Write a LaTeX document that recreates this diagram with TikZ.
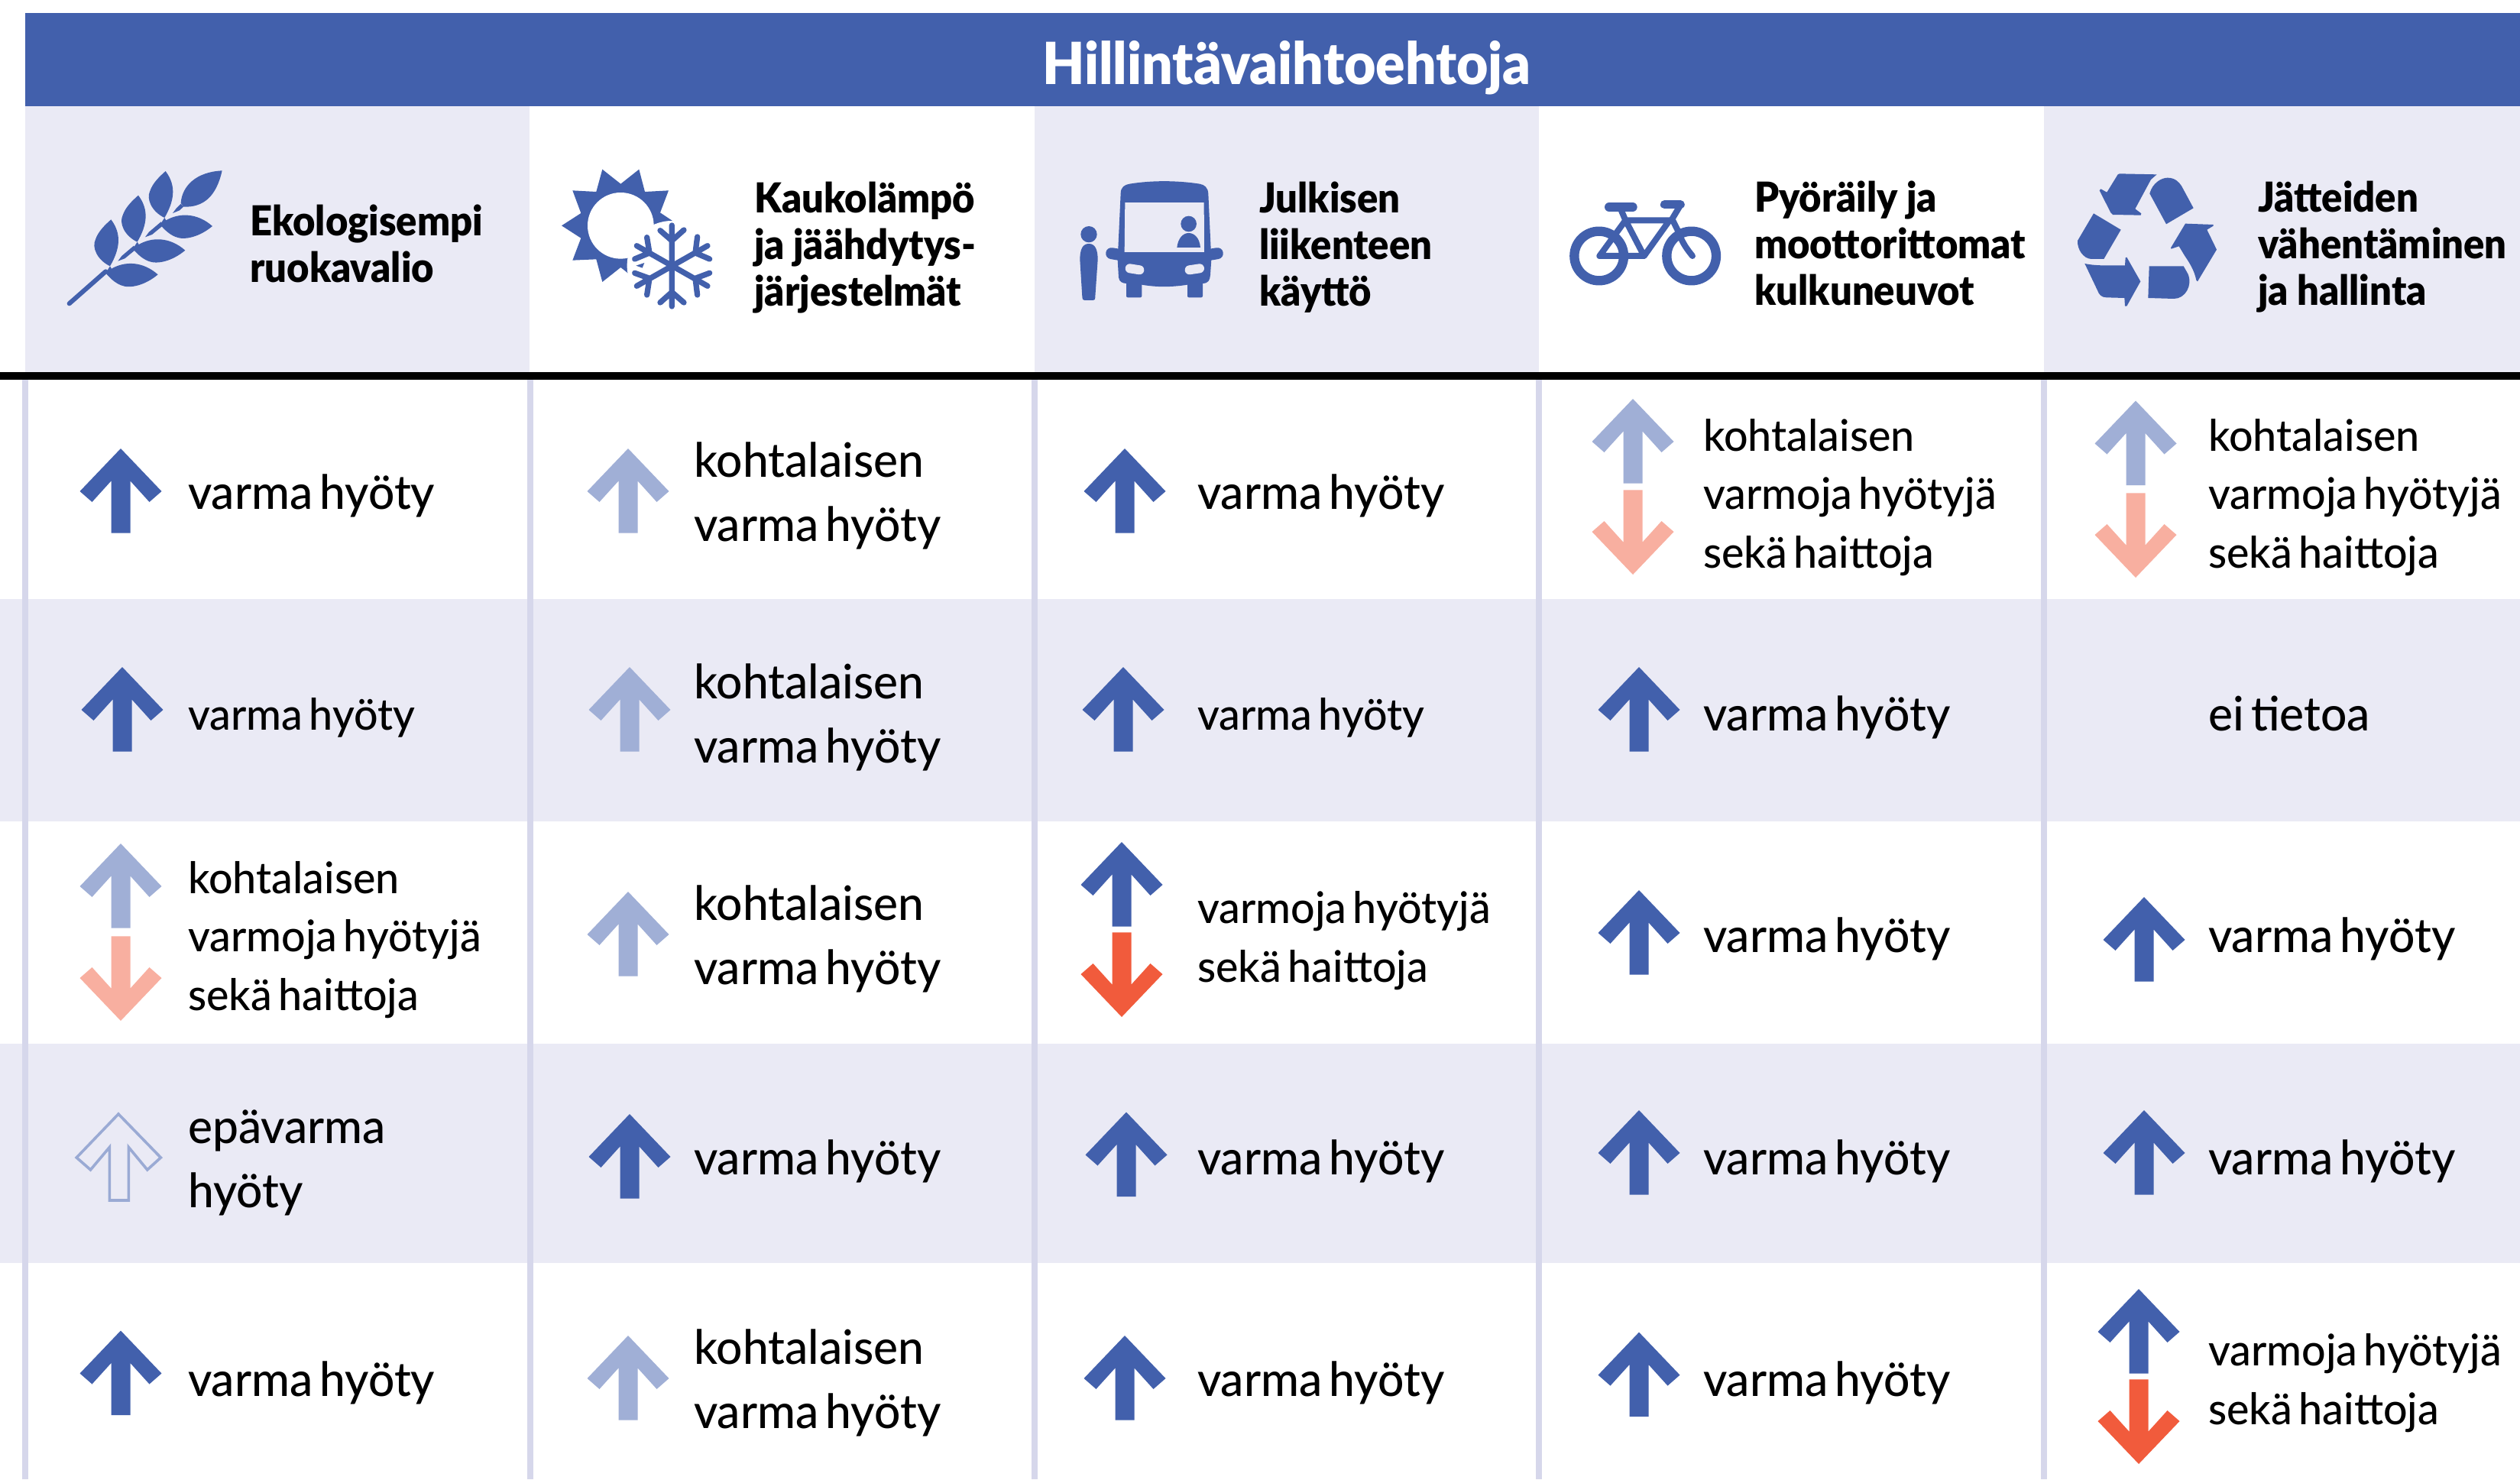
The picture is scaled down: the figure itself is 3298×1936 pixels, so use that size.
\documentclass[tikz,border=0pt]{standalone}
\usepackage{fontspec}
\setmainfont[FakeStretch=0.975,WordSpace=0.6,BoldFont={Lato Black},BoldFeatures={FakeStretch=0.94,WordSpace=0.95}]{Lato Medium}
\definecolor{hdrblue}{HTML}{4260AC}
\definecolor{lightblue}{HTML}{A0AFD6}
\definecolor{openblue}{HTML}{9AAAD4}
\definecolor{salmon}{HTML}{F8AFA0}
\definecolor{hotred}{HTML}{F15B3C}
\definecolor{band}{HTML}{EAEAF5}
\definecolor{gridline}{HTML}{D6D7EB}
\tikzset{
  hdrtext/.style={anchor=base west,inner sep=0pt,align=left,font=\fontsize{54}{61}\selectfont\bfseries},
  bigtext/.style={anchor=base west,inner sep=0pt,align=left,font=\fontsize{62}{84}\selectfont},
  midtext/.style={anchor=base west,inner sep=0pt,align=left,font=\fontsize{57}{76.5}\selectfont},
  iconfill/.style={fill=hdrblue,draw=none},
  iconline/.style={draw=hdrblue,line cap=round,line join=round},
}
\newcommand{\arrowUp}[3]{\fill[#1] ({#2},{#3}) -- ++(53.5,56) -- ++(-16,14) -- ++(-25,-27.6) -- ++(0,68.2) -- ++(-25,0) -- ++(0,-68.2) -- ++(-25,27.6) -- ++(-16,-14) -- cycle;}
\newcommand{\arrowDown}[3]{\fill[#1] ({#2},{#3}) -- ++(53.5,-56) -- ++(-16,-14) -- ++(-25,27.6) -- ++(0,-68.2) -- ++(-25,0) -- ++(0,68.2) -- ++(-25,-27.6) -- ++(-16,14) -- cycle;}
\begin{document}
\begin{tikzpicture}[x=1pt,y=-1pt]
\useasboundingbox (0,0) rectangle (3298,1936);
\fill[white] (0,0) rectangle (3298,1936);
% header
\fill[hdrblue] (33,17) rectangle (3298,139);
\fill[band] (33,139) rectangle (693,487);
\fill[band] (1354,139) rectangle (2014,487);
\fill[band] (2675,139) rectangle (3298,487);
% row bands
\fill[band] (0,784) rectangle (3298,1075);
\fill[band] (0,1366) rectangle (3298,1653);
% column rules
\foreach \cx in {33,694,1354,2014,2675} \fill[gridline] ({\cx-4},497) rectangle ({\cx+4},1936);
\fill[black] (0,487) rectangle (3298,497);
% title
\node[anchor=base,inner sep=0pt,text=white,font=\fontsize{76}{80}\selectfont\bfseries] (title) at (1684,110) {Hillintävaihtoehtoja};
% header labels (baseline of last line)
\node[hdrtext] (h1) at (327,369) {Ekologisempi\\ruokavalio};
\node[hdrtext] (h2) at (987,400) {Kaukolämpö\\ja jäähdytys-\\järjestelmät};
\node[hdrtext] (h3) at (1648,400) {Julkisen\\liikenteen\\käyttö};
\node[hdrtext] (h4) at (2296,399) {Pyöräily ja\\moottorittomat\\kulkuneuvot};
\node[hdrtext] (h5) at (2955,399) {Jätteiden\\vähentäminen\\ja hallinta};
% leaf icon
\begin{scope}[shift={(70,200)},x=0.3333pt,y=-0.3333pt]
  \draw[iconline,line width=6pt] (62,592) -- (205,466);
  \foreach \dx/\dy in {0/0,107/-95,214/-190}{
    \begin{scope}[shift={(\dx,\dy)}]
    \fill[hdrblue] (226,262) .. controls (270,320) and (260,380) .. (222,445) .. controls (170,420) and (150,370) .. (165,340) .. controls (175,310) and (200,285) .. (226,262) -- cycle;
    \fill[hdrblue] (228,455) .. controls (280,425) and (350,425) .. (410,478) .. controls (360,520) and (300,535) .. (265,520) .. controls (240,510) and (220,490) .. (205,472) -- (222,445) -- cycle;
    \end{scope}}
  \fill[hdrblue] (253,425) -- (268,405) -- (315,365) -- (325,378) -- (280,415) -- cycle;
  \fill[hdrblue] (360,331) -- (375,311) -- (422,271) -- (432,284) -- (387,321) -- cycle;
  \fill[hdrblue] (468,237) -- (483,217) -- (500,200) -- (510,212) -- (495,226) -- cycle;
  \fill[hdrblue] (662,70) .. controls (640,170) and (590,215) .. (510,212) -- (500,197) .. controls (505,130) and (560,75) .. (662,70) -- cycle;
\end{scope}
% sun and snowflake icon
\begin{scope}[shift={(720,200)},x=0.3333pt,y=-0.3333pt]
  \fill[hdrblue] (45,286) -- (121,237) -- (88,148) -- (181,153) -- (205,65) -- (277,122) -- (349,65) -- (372,153) -- (465,148) -- (432,235) -- (509,286) -- (432,335) -- (465,422) -- (372,418) -- (349,507) -- (277,450) -- (205,507) -- (181,418) -- (88,422) -- (121,335) -- cycle;
  \fill[white] (277,286) circle[radius=130];
  \fill[white] (478,443) circle[radius=176];
  \fill[hdrblue] (337,443) -- (370,432) -- (362,452) -- cycle;
  \draw[iconline,line width=7.3pt] (478,285) -- (478,603)
    (432,305) -- (478,345) -- (525,303) (432,588) -- (478,547) -- (525,588)
    (340,365) -- (618,523) (618,365) -- (340,523)
    (380,332) -- (390,393) -- (332,417) (578,330) -- (570,393) -- (626,417)
    (332,472) -- (390,493) -- (380,558) (626,472) -- (570,493) -- (578,558);
\end{scope}
% bus icon
\begin{scope}[shift={(1400,220)},x=0.3333pt,y=-0.3333pt]
  \fill[hdrblue] (200,100) .. controls (200,75) and (215,65) .. (235,62) .. controls (320,48) and (420,48) .. (510,62) .. controls (530,65) and (543,78) .. (544,100) -- (556,360) -- (552,420) .. controls (550,440) and (545,452) .. (522,453) -- (462,458) .. controls (400,468) and (340,468) .. (283,458) -- (222,453) .. controls (208,452) and (195,448) .. (192,430) -- (188,360) -- cycle;
  \fill[hdrblue,rounded corners=2pt] (222,440) rectangle (283,508);
  \fill[hdrblue,rounded corners=2pt] (462,440) rectangle (522,508);
  \draw[iconline,line width=15pt] (164,335) -- (200,341);
  \draw[iconline,line width=15pt] (580,335) -- (544,341);
  \draw[band,line cap=round,line width=12pt] (236,394) -- (274,400);
  \draw[band,line cap=round,line width=12pt] (470,400) -- (510,394);
  \fill[band] (217,135) -- (527,135) -- (528,330) -- (215,330) -- cycle;
  \fill[hdrblue] (467,219) circle[radius=31];
  \fill[hdrblue] (421,312) .. controls (425,275) and (445,255) .. (467,255) .. controls (490,255) and (510,275) .. (513,312) -- cycle;
  \fill[hdrblue] (75,260) circle[radius=32];
  \fill[hdrblue] (40,360) .. controls (40,320) and (50,297) .. (75,297) .. controls (100,297) and (110,320) .. (110,360) -- (100,505) .. controls (100,515) and (98,519) .. (92,519) -- (58,519) .. controls (52,519) and (50,515) .. (49,505) -- cycle;
\end{scope}
% bicycle icon
\begin{scope}[shift={(2040,240)},x=0.3333pt,y=-0.3333pt]
  \draw[hdrblue,line width=12.3pt] (158,285) circle[radius=97];
  \draw[hdrblue,line width=12.3pt] (521,285) circle[radius=97];
  \draw[iconline,line width=12pt] (198,93) -- (290,93);
  \draw[iconline,line width=11pt] (415,83) -- (478,83);
  \draw[iconline,line width=8pt] (245,105) -- (262,145) -- (335,285) -- (160,285) -- (262,145) -- (435,145) -- (335,285);
  \draw[iconline,line width=8pt] (478,85) -- (445,140) -- (470,190) .. controls (485,235) and (505,260) .. (525,285);
\end{scope}
% recycle icon
\begin{scope}[shift={(2700,210)},x=0.3333pt,y=-0.3333pt]
  \fill[hdrblue] (222,52) -- (368,55) -- (345,75) -- (283,190) -- (307,208) -- (305,215) -- (195,213) -- (187,205) -- (143,118) -- (148,112) -- (172,125) -- (215,55) -- cycle;
  \fill[hdrblue] (340,130) .. controls (350,90) and (385,68) .. (410,68) .. controls (440,68) and (455,85) .. (465,100) -- (512,187) -- (405,250) -- cycle;
  \fill[hdrblue] (480,248) -- (590,252) -- (590,257) -- (565,272) -- (603,350) -- (528,475) -- (523,470) .. controls (515,430) and (495,400) .. (478,375) -- (455,337) -- (425,347) -- (423,343) -- cycle;
  \fill[hdrblue] (338,415) -- (473,415) -- (490,445) .. controls (510,490) and (480,543) .. (435,543) -- (334,540) -- cycle;
  \fill[hdrblue] (85,405) .. controls (130,415) and (190,412) .. (243,412) -- (245,382) -- (250,380) -- (304,475) -- (250,572) -- (243,572) -- (241,540) -- (170,538) .. controls (150,538) and (140,525) .. (135,510) -- cycle;
  \fill[hdrblue] (120,208) -- (227,272) -- (160,387) -- (110,387) .. controls (80,385) and (55,350) .. (57,315) -- cycle;
\end{scope}
% arrows
\arrowUp{hdrblue}{158}{587}
\arrowUp{lightblue}{822}{587}
\arrowUp{hdrblue}{1472}{587}
\arrowUp{lightblue}{2137}{522}\arrowDown{salmon}{2137}{752}
\arrowUp{lightblue}{2795}{524.5}\arrowDown{salmon}{2795}{756}
\arrowUp{hdrblue}{160}{873}
\arrowUp{lightblue}{824}{873}
\arrowUp{hdrblue}{1470}{873}
\arrowUp{hdrblue}{2145}{873}
\arrowUp{lightblue}{158}{1104}\arrowDown{salmon}{158}{1336}
\arrowUp{lightblue}{822}{1167}
\arrowUp{hdrblue}{1468}{1102}\arrowDown{hotred}{1468}{1331}
\arrowUp{hdrblue}{2145}{1165}
\arrowUp{hdrblue}{2806}{1174}
\draw[openblue,line width=3.6pt,miter limit=10] (155,1458) -- (100.2,1515) -- (118.5,1531) -- (143.4,1501.4) -- (143.4,1571) -- (168.3,1571) -- (168.3,1501.4) -- (192.8,1531) -- (210.4,1515) -- cycle;
\arrowUp{hdrblue}{824}{1458}
\arrowUp{hdrblue}{1474}{1455.5}
\arrowUp{hdrblue}{2145}{1453}
\arrowUp{hdrblue}{2806}{1453}
\arrowUp{hdrblue}{158}{1741.5}
\arrowUp{lightblue}{822}{1748}
\arrowUp{hdrblue}{1472}{1748}
\arrowUp{hdrblue}{2145}{1743.6}
\arrowUp{hdrblue}{2799}{1687}\arrowDown{hotred}{2799}{1916}
% row 1
\node[bigtext] (r1c1) at (246,666) {varma hyöty};
\node[bigtext] (r1c2) at (908,708) {kohtalaisen\\varma hyöty};
\node[bigtext] (r1c3) at (1567,666) {varma hyöty};
\node[midtext] (r1c4) at (2229,743) {kohtalaisen\\varmoja hyötyjä\\sekä haittoja};
\node[midtext] (r1c5) at (2890,743) {kohtalaisen\\varmoja hyötyjä\\sekä haittoja};
% row 2
\node[midtext] (r2c1) at (246,955) {varma hyöty};
\node[bigtext] (r2c2) at (908,998) {kohtalaisen\\varma hyöty};
\node[midtext] (r2c3) at (1567,955) {varma hyöty};
\node[bigtext] (r2c4) at (2229,956) {varma hyöty};
\node[bigtext] (r2c5) at (2890,956) {ei tietoa};
% row 3
\node[midtext] (r3c1) at (246,1322) {kohtalaisen\\varmoja hyötyjä\\sekä haittoja};
\node[bigtext] (r3c2) at (908,1288) {kohtalaisen\\varma hyöty};
\node[midtext] (r3c3) at (1567,1285) {varmoja hyötyjä\\sekä haittoja};
\node[bigtext] (r3c4) at (2229,1246) {varma hyöty};
\node[bigtext] (r3c5) at (2890,1246) {varma hyöty};
% row 4
\node[bigtext] (r4c1) at (246,1580) {epävarma\\hyöty};
\node[bigtext] (r4c2) at (908,1537) {varma hyöty};
\node[bigtext] (r4c3) at (1567,1537) {varma hyöty};
\node[bigtext] (r4c4) at (2229,1537) {varma hyöty};
\node[bigtext] (r4c5) at (2890,1537) {varma hyöty};
% row 5
\node[bigtext] (r5c1) at (246,1827) {varma hyöty};
\node[bigtext] (r5c2) at (908,1869) {kohtalaisen\\varma hyöty};
\node[bigtext] (r5c3) at (1567,1827) {varma hyöty};
\node[bigtext] (r5c4) at (2229,1827) {varma hyöty};
\node[midtext] (r5c5) at (2890,1864) {varmoja hyötyjä\\sekä haittoja};
\end{tikzpicture}
\end{document}
